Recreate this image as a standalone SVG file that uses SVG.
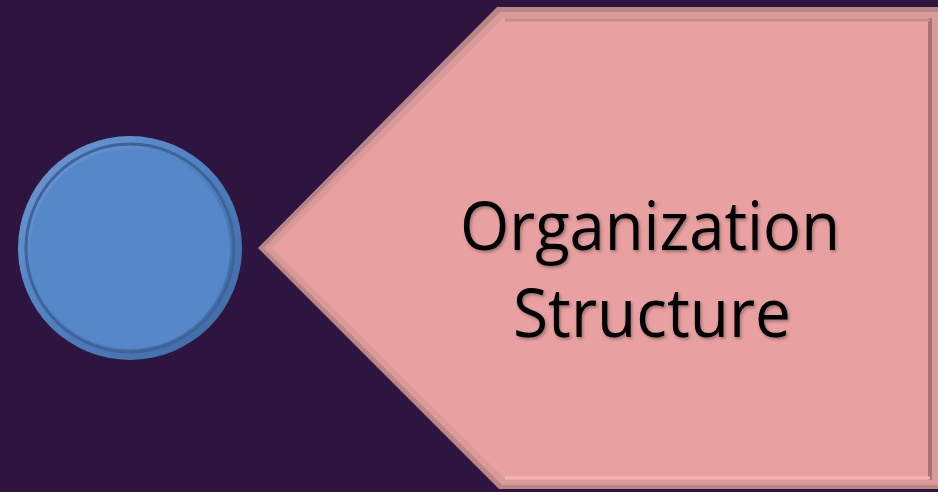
<svg xmlns="http://www.w3.org/2000/svg" width="938" height="492" viewBox="0 0 938 492">
<style>
.lbl{font-family:"Open Sans","Noto Sans",sans-serif;font-size:68px;fill:#000;text-anchor:middle}
</style>
<defs>
<filter id="ts" x="-10%" y="-10%" width="120%" height="130%">
<feDropShadow dx="1.5" dy="2" stdDeviation="1.5" flood-color="#000" flood-opacity="0.3"/>
</filter>
<linearGradient id="ring" x1="0" y1="0" x2="1" y2="1">
<stop offset="0" stop-color="#6f9ad6"/>
<stop offset="0.5" stop-color="#4f7fbf"/>
<stop offset="1" stop-color="#3f68a0"/>
</linearGradient>
</defs>
<rect width="938" height="492" fill="#2d1540"/>
<g id="circle">
<circle cx="130" cy="248" r="112" fill="url(#ring)"/>
<circle cx="130" cy="248" r="104" fill="none" stroke="#3d6499" stroke-width="3"/>
<circle cx="130" cy="249" r="100" fill="#5687c9"/>
</g>
<g id="pentagon">
<polygon points="258,248 497,7 945,7 945,489 499,489" fill="#b98585"/>
<polygon points="264,248 500,12 945,12 945,485 502,485" fill="#d89a9a"/>
<polygon points="272,248 503,18 930,18 930,479 505,479" fill="#e8a0a0"/>
<line x1="930" y1="18" x2="930" y2="480" stroke="#a87272" stroke-width="4"/>
<line x1="505" y1="20" x2="930" y2="20" stroke="#c98a8a" stroke-width="3"/>
<line x1="505" y1="478" x2="930" y2="478" stroke="#f5b5b5" stroke-width="3"/>
<text class="lbl" x="650" y="250" textLength="380" lengthAdjust="spacingAndGlyphs" filter="url(#ts)">Organization</text>
<text class="lbl" x="652" y="337" textLength="278" lengthAdjust="spacingAndGlyphs" filter="url(#ts)">Structure</text>
</g>
<g id="connectors"/>
</svg>
